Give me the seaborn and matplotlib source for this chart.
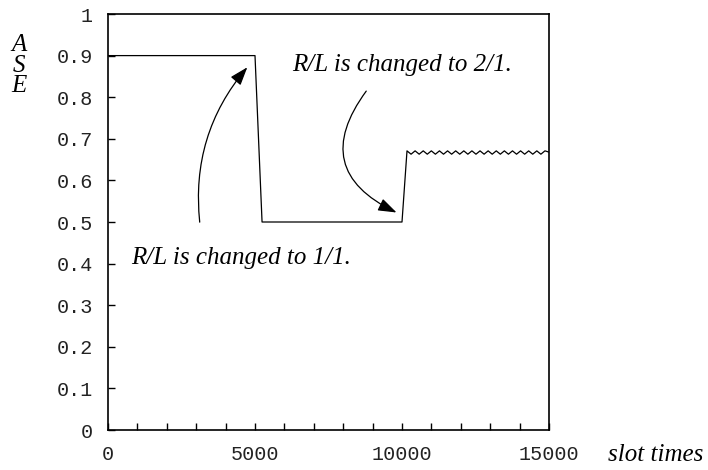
import matplotlib
matplotlib.use("Agg")
import matplotlib.pyplot as plt
import seaborn as sns
import pandas as pd

# data
slot_times = [0, 5000, 5240, 10000, 10170,
              10308, 10446, 10584, 10722, 10860, 10998, 11136, 11274, 11412,
              11550, 11688, 11826, 11964, 12102, 12240, 12378, 12516, 12654,
              12792, 12930, 13068, 13206, 13344, 13482, 13620, 13758, 13896,
              14034, 14172, 14310, 14448, 14586, 14724, 14862, 15000]
ase = [0.9, 0.9, 0.5, 0.5, 0.671,
       0.663, 0.671, 0.663, 0.671, 0.663, 0.671, 0.663, 0.671, 0.663,
       0.671, 0.663, 0.671, 0.663, 0.671, 0.663, 0.671, 0.663, 0.671,
       0.663, 0.671, 0.663, 0.671, 0.663, 0.671, 0.663, 0.671, 0.663,
       0.671, 0.663, 0.671, 0.663, 0.671, 0.663, 0.671, 0.668]
x_major = [0, 5000, 10000, 15000]
x_minor = list(range(0, 15001, 1000))
y_ticks = [0, 0.1, 0.2, 0.3, 0.4, 0.5, 0.6, 0.7, 0.8, 0.9, 1]
y_tick_labels = ["0", "0.1", "0.2", "0.3", "0.4", "0.5", "0.6", "0.7", "0.8", "0.9", "1"]
note_1 = "R/L is changed to 1/1."
note_2 = "R/L is changed to 2/1."

df = pd.DataFrame({"slot": slot_times, "ase": ase})

sns.set_style("ticks")
plt.rcParams["font.family"] = ["Liberation Mono", "DejaVu Sans Mono"]

fig = plt.figure(figsize=(7.08, 4.70), dpi=100)
ax = fig.add_axes([108 / 708, 40 / 470, 441 / 708, 416 / 470])

sns.lineplot(data=df, x="slot", y="ase", ax=ax, color="black", linewidth=0.9,
             estimator=None, sort=False)

ax.set_xlim(0, 15000)
ax.set_ylim(0, 1)
ax.set_xticks(x_major)
ax.set_xticklabels([str(v) for v in x_major])
ax.set_xticks(x_minor, minor=True)
ax.set_yticks(y_ticks)
ax.set_yticklabels(y_tick_labels)
ax.tick_params(axis="both", which="both", direction="in", labelsize=14.5,
               colors="black", width=1)
for lab in ax.get_xticklabels() + ax.get_yticklabels():
    lab.set_color("#222222")
ax.tick_params(axis="x", which="both", length=5, pad=11, top=False)
ax.tick_params(axis="y", length=5, pad=11, right=False)
for s in ax.spines.values():
    s.set_visible(True)
    s.set_linewidth(1.2)
    s.set_color("black")
ax.set_xlabel("")
ax.set_ylabel("")

serif = dict(family="Liberation Serif", style="italic", color="black")

arrow_style = "-|>,head_length=0.8,head_width=0.28"
ax.annotate("", xy=(4800, 0.877), xytext=(3130, 0.493),
            arrowprops=dict(arrowstyle=arrow_style, color="black", lw=0.9,
                            mutation_scale=14,
                            connectionstyle="arc3,rad=-0.22"))
ax.annotate("", xy=(9900, 0.52), xytext=(8840, 0.82),
            arrowprops=dict(arrowstyle=arrow_style, color="black", lw=0.9,
                            mutation_scale=14,
                            connectionstyle="arc3,rad=0.62"))

ax.text(800, 0.413, note_1, fontsize=18, ha="left", va="center", **serif)
ax.text(6250, 0.878, note_2, fontsize=18, ha="left", va="center", **serif)

fig.text(19 / 708, 1 - 45 / 470, "A", fontsize=18, ha="center", va="center", **serif)
fig.text(19 / 708, 1 - 66 / 470, "S", fontsize=18, ha="center", va="center", **serif)
fig.text(19 / 708, 1 - 86 / 470, "E", fontsize=18, ha="center", va="center", **serif)
fig.text(656 / 708, 1 - 455 / 470, "slot times", fontsize=18, ha="center",
         va="center", **serif)

fig.savefig("out.png", dpi=100, facecolor="white")
